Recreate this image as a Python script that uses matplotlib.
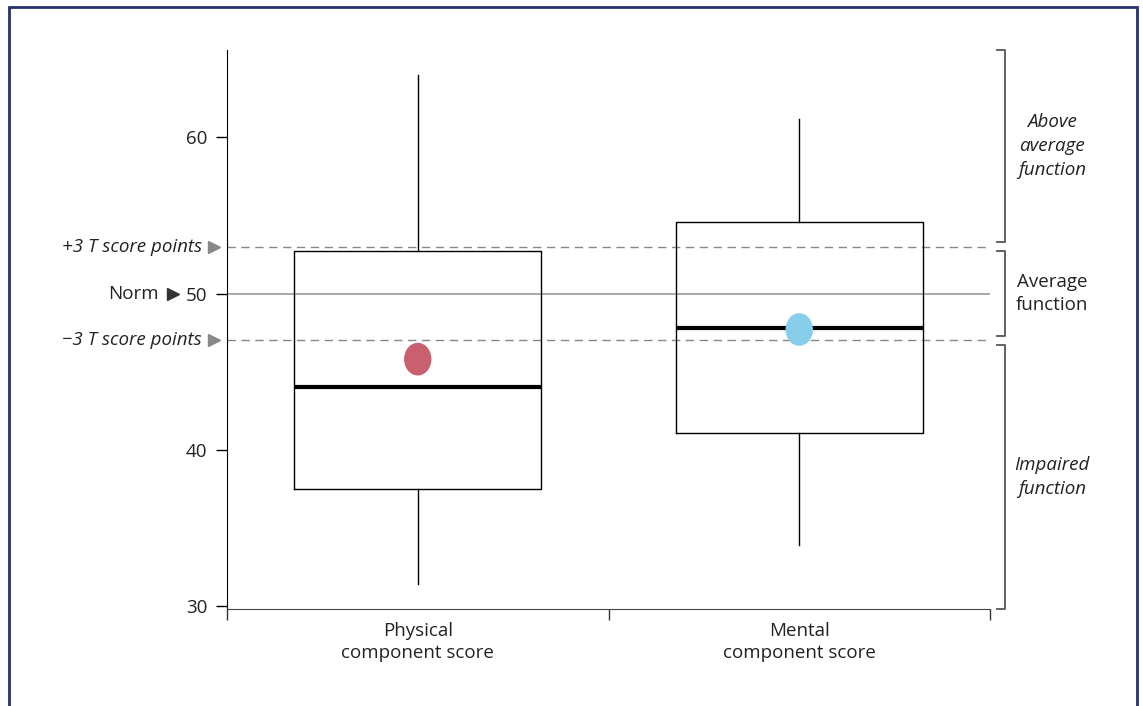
import matplotlib.pyplot as plt
import matplotlib.transforms as mtransforms
from matplotlib.patches import Ellipse, Rectangle

plt.rcParams['font.family'] = ['Open Sans', 'DejaVu Sans']

# data
categories = ["Physical\ncomponent score", "Mental\ncomponent score"]
whisker_low = [31.4, 33.9]
q1 = [37.5, 41.1]
median = [44.0, 47.8]
q3 = [52.7, 54.6]
whisker_high = [64.0, 61.2]
means = [45.8, 47.7]
mean_colors = ["#c8606f", "#87ceeb"]

norm = 50
t_band = 3
band_labels = ["Above\naverage\nfunction", "Average\nfunction", "Impaired\nfunction"]
band_italic = [True, False, True]

fig = plt.figure(figsize=(11.43, 7.06), dpi=100)
ax = fig.add_axes([227 / 1143, 1 - 609 / 706, 763 / 1143, 559 / 706])

# frame round the figure
fig.patches.append(Rectangle((9 / 1143, -0.1), 1128 / 1143, 1.1 - 7 / 706,
                             transform=fig.transFigure, fill=False,
                             edgecolor="#26306a", linewidth=2))

ymin, ymax = 29.8, 65.6
pos = [0.5, 1.5]
fs = 13.5

stats = []
for i in range(2):
    stats.append({"whislo": whisker_low[i], "q1": q1[i], "med": median[i],
                  "q3": q3[i], "whishi": whisker_high[i], "fliers": []})
ax.bxp(stats, positions=pos, widths=0.647, showcaps=False,
       boxprops=dict(color="black", linewidth=1),
       whiskerprops=dict(color="black", linewidth=1),
       medianprops=dict(color="black", linewidth=3), zorder=3)

# mean dots
for p, m, c in zip(pos, means, mean_colors):
    ax.add_patch(Ellipse((p, m), 0.068, 2.0, color=c, zorder=4))

# norm and +/-3 lines
ax.axhline(norm, color="#999999", linewidth=1.2, zorder=1)
ax.axhline(norm + t_band, color="#888888", linewidth=1, dashes=(6, 4), zorder=1)
ax.axhline(norm - t_band, color="#888888", linewidth=1, dashes=(6, 4), zorder=1)

ax.set_xlim(0, 2)
ax.set_ylim(ymin, ymax)
ax.set_yticks([30, 40, 50, 60])
ax.tick_params(axis="y", labelsize=fs, length=8, width=1, pad=6,
               labelcolor="#222222")
ax.set_xticks(pos)
ax.set_xticklabels(categories, fontsize=fs, color="#222222", linespacing=1.35)
ax.set_xticks([0, 1, 2], minor=True)
ax.tick_params(axis="x", which="major", length=0, pad=9)
ax.tick_params(axis="x", which="minor", length=8, width=1, color="#333333")
for d in ["right", "top"]:
    ax.spines[d].set_visible(False)
ax.spines["bottom"].set_color("#444444")

trans = mtransforms.blended_transform_factory(ax.transAxes, ax.transData)

# left side labels
for y, label in [(norm + t_band, "+3 T score points"),
                 (norm - t_band, "\u22123 T score points")]:
    ax.text(-0.033, y, label, transform=trans, ha="right", va="center",
            fontsize=fs, style="italic", color="#222222")
    ax.plot([-0.017], [y], marker=">", markersize=9, color="#888888",
            transform=trans, clip_on=False)
ax.text(-0.09, norm, "Norm", transform=trans, ha="right", va="center",
        fontsize=fs, color="#222222")
ax.plot([-0.0705], [norm], marker=">", markersize=9, color="#333333",
        transform=trans, clip_on=False)

# brackets on the right
gap = 0.3
bands = [(norm + t_band + gap, ymax), (norm - t_band + gap, norm + t_band - gap),
         (ymin, norm - t_band - gap)]
for (lo, hi), label, it in zip(bands, band_labels, band_italic):
    ax.plot([1.009, 1.0197, 1.0197, 1.009], [hi, hi, lo, lo], color="#555555",
            linewidth=1.3, transform=trans, clip_on=False)
    ax.text(1.081, (lo + hi) / 2, label, transform=trans, ha="center",
            va="center", fontsize=fs, color="#222222", linespacing=1.4,
            style="italic" if it else "normal")

plt.savefig("out.png", dpi=100)
